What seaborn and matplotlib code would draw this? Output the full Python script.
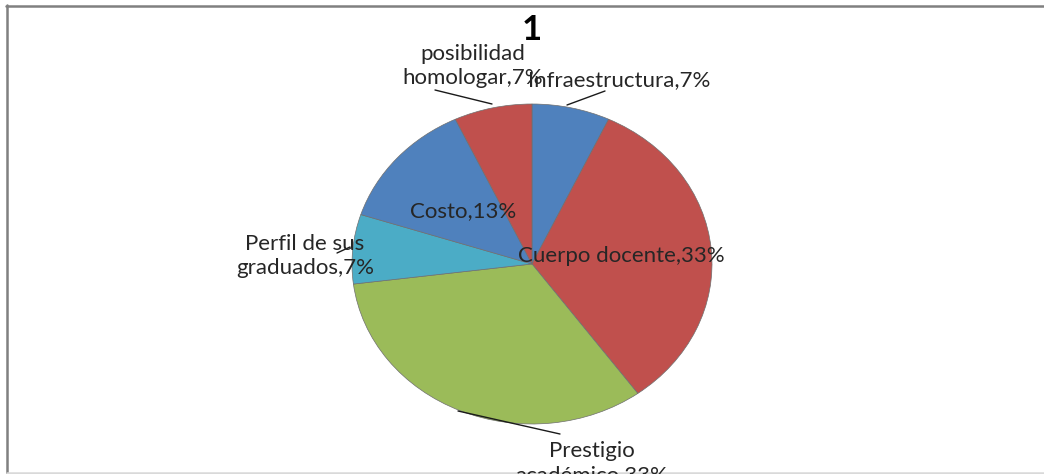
import matplotlib
matplotlib.use("Agg")
from matplotlib import pyplot as plt
from matplotlib.lines import Line2D
import seaborn as sns

# data (clockwise from 12 o'clock)
categories = ["Infraestructura", "Cuerpo docente", "Prestigio\nacadémico",
              "Perfil de sus\ngraduados", "Costo", "posibilidad\nhomologar"]
values = [7, 33, 33, 7, 13, 7]
colors = ["#4F81BD", "#C0504D", "#9BBB59", "#4BACC6", "#4F81BD", "#C0504D"]
title = "1"

# label placement in pixels (centre of text), leader lines in pixels
label_pos = [(619, 80), (621, 256), (592, 463), (305, 256), (463, 211), (473, 66)]
leaders = {0: [(605, 91), (567, 105)],
           2: [(458, 411), (560, 434)],
           3: [(337, 253), (350, 247)],
           5: [(435, 90), (492, 104)]}

W, H = 1044, 474
sns.set_theme(style="white")
plt.rcParams["font.family"] = ["Lato", "DejaVu Sans"]

def px(x, y):
    return x / W, 1 - y / H

fig = plt.figure(figsize=(W / 100, H / 100), dpi=100)
fig.patch.set_facecolor("white")

# pie is an ellipse: rx ~180 px, ry ~160 px, centre (532, 264)
cx, cy, rx, ry = 532, 264, 180, 160
ax = fig.add_axes([(cx - rx) / W, (H - cy - ry) / H, 2 * rx / W, 2 * ry / H])
ax.pie(values, colors=colors, startangle=90, counterclock=False, radius=1,
       wedgeprops=dict(edgecolor="#6f6f6f", linewidth=0.5))
ax.set_aspect("auto")
ax.set_xlim(-1, 1)
ax.set_ylim(-1, 1)
ax.axis("off")

for i, (name, v) in enumerate(zip(categories, values)):
    x, y = label_pos[i]
    fig.text(*px(x, y), f"{name},{v}%", ha="center", va="center",
             fontsize=16, color="#262626", linespacing=1.3)

for seg in leaders.values():
    (x0, y0), (x1, y1) = seg
    a, b = px(x0, y0)
    c, d = px(x1, y1)
    fig.add_artist(Line2D([a, c], [b, d], color="#1a1a1a", linewidth=1))

fig.text(*px(532, 30), title, ha="center", va="center", fontsize=25,
         fontweight="bold", color="black")

# outer frame of the screenshot
fig.add_artist(Line2D([px(7, 0)[0], px(7, 0)[0]], [px(0, 5)[1], 0], color="#808080", linewidth=1.8))
fig.add_artist(Line2D([px(6, 0)[0], 1], [px(0, 5.5)[1], px(0, 5.5)[1]], color="#808080", linewidth=1.8))
fig.add_artist(Line2D([px(7, 0)[0], 1], [px(0, 473)[1], px(0, 473)[1]], color="#d9d9d9", linewidth=1.8))

fig.savefig("out.png", dpi=100)
